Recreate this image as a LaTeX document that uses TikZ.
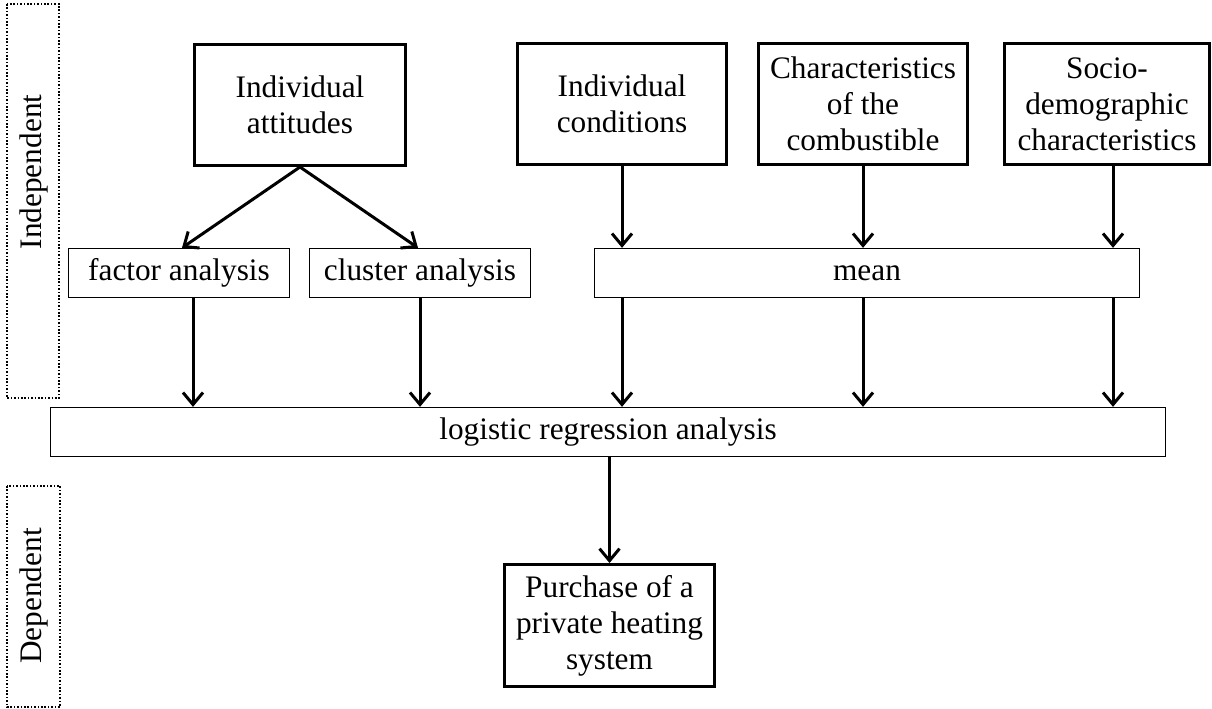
\documentclass[tikz,border=0pt]{standalone}
\usepackage{fontspec}
\setmainfont{Liberation Serif}
\usetikzlibrary{arrows.meta,calc}
\begin{document}
\begin{tikzpicture}[x=1pt,y=-1pt,
  txt/.style={font=\fontsize{31.3}{36}\selectfont},
  bigbox/.style={draw, line width=3pt, align=center, inner sep=0pt, txt},
  smallbox/.style={draw, line width=1.3pt, inner sep=0pt, txt},
  groupbox/.style={draw, line width=1.7pt, dash pattern=on 1.6pt off 1.8pt},
  arr/.style={line width=3pt, -{Straight Barb[length=12pt,width=20pt,line width=3pt]}}]
\useasboundingbox (0,0) rectangle (1212,709);

% group frames
\draw[groupbox] (7,4) rectangle (59,398);
\draw[groupbox] (7,486) rectangle (60,707);
\node[txt, rotate=90] (indep) at (34,172) {Independent};
\node[txt, rotate=90] (dep) at (34,596) {Dependent};

% top boxes
\node[bigbox, minimum width=211pt, minimum height=121pt] (att) at (300,105) {Individual\\attitudes};
\node[bigbox, minimum width=209pt, minimum height=121pt] (cond) at (622,104) {Individual\\conditions};
\node[bigbox, minimum width=209pt, minimum height=121pt] (comb) at (863,104) {Characteristics\\of the\\combustible};
\node[bigbox, minimum width=205pt, minimum height=121pt] (soc) at (1107,104) {Socio-\\demographic\\characteristics};

% middle boxes
\node[smallbox, minimum width=221pt, minimum height=49pt] (fac) at (179,273) {factor analysis};
\node[smallbox, minimum width=221pt, minimum height=49pt] (clu) at (420,273) {cluster analysis};
\node[smallbox, minimum width=545pt, minimum height=49pt] (mean) at (867,273) {mean};

% regression
\node[smallbox, minimum width=1115pt, minimum height=49pt] (log) at (608,432) {logistic regression analysis};

% dependent
\node[bigbox, minimum width=210pt, minimum height=122pt] (pur) at (609.5,625.5) {Purchase of a\\private heating\\system};

% connectors
\draw[arr] (att.south) -- ([xshift=3pt]fac.north);
\draw[arr] (att.south) -- ([xshift=-2pt]clu.north);
\draw[arr] (cond.south) -- (cond.south |- mean.north);
\draw[arr] (comb.south) -- (comb.south |- mean.north);
\draw[arr] ([xshift=6pt]soc.south) -- ([xshift=6pt]soc.south |- mean.north);

\draw[arr] ([xshift=14pt]fac.south) -- ([xshift=14pt]fac.south |- log.north);
\draw[arr] (clu.south) -- (clu.south |- log.north);
\draw[arr] (cond.south |- mean.south) -- (cond.south |- log.north);
\draw[arr] (comb.south |- mean.south) -- (comb.south |- log.north);
\draw[arr] ([xshift=6pt]soc.south |- mean.south) -- ([xshift=6pt]soc.south |- log.north);

\draw[arr] (pur.north |- log.south) -- (pur.north);
\end{tikzpicture}
\end{document}
